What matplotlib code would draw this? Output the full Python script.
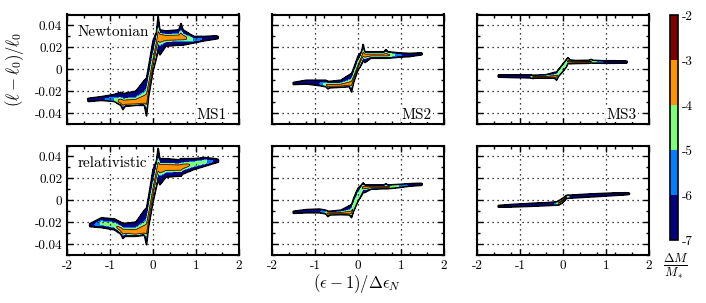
import numpy as np
import matplotlib
matplotlib.use("Agg")
import matplotlib.pyplot as plt
from matplotlib.ticker import MultipleLocator, FixedLocator, FixedFormatter

plt.rcParams['font.family'] = 'serif'
plt.rcParams['font.serif'] = ['cmr10']
plt.rcParams['mathtext.fontset'] = 'cm'
plt.rcParams['axes.unicode_minus'] = False

# log10(dM/M*) levels and band colours
levels = [-7, -6, -5, -4, -3, -2]
band_colors = ['#000080', '#0080ff', '#7dff7a', '#ff9400', '#800000']
cbar_labels = ['-7', '-6', '-5', '-4', '-3', '-2']

x_nodes = [-1.55, -1.5, -1.2, -0.9, -0.75, -0.7, -0.65, -0.4, -0.2, -0.15, -0.1, 0.0,
           0.08, 0.12, 0.16, 0.3, 0.6, 0.65, 0.7, 0.95, 1.2, 1.45, 1.6]

# Newtonian MS1: ridge (l-l0)/l0, extent above / below ridge, peak log10(dM/M*)
newt1_yc = [-0.028, -0.028, -0.027, -0.028, -0.030, -0.031, -0.031, -0.031, -0.030, -0.028, -0.017, 0.004,
            0.022, 0.029, 0.030, 0.029, 0.029, 0.029, 0.029, 0.027, 0.028, 0.029, 0.029]
newt1_up = [0.0005, 0.0015, 0.002, 0.005, 0.009, 0.009, 0.009, 0.011, 0.020, 0.020, 0.020, 0.022,
            0.012, 0.020, 0.006, 0.006, 0.007, 0.013, 0.007, 0.003, 0.002, 0.0015, 0.0005]
newt1_dn = [0.0005, 0.0015, 0.0015, 0.0015, 0.003, 0.006, 0.003, 0.002, 0.003, 0.015, 0.008, 0.006,
            0.012, 0.012, 0.017, 0.008, 0.007, 0.007, 0.007, 0.003, 0.002, 0.0015, 0.0005]
newt1_pk = [-7.5, -6.8, -6.5, -5.0, -3.3, -3.3, -3.3, -3.3, -3.4, -3.6, -3.8, -3.8,
            -3.8, -3.6, -3.3, -3.3, -3.3, -3.3, -3.4, -5.2, -6.3, -6.6, -7.5]

# Newtonian MS2
newt2_yc = [-0.013, -0.013, -0.012, -0.013, -0.014, -0.015, -0.015, -0.015, -0.014, -0.013, -0.008, 0.002,
            0.010, 0.013, 0.013, 0.013, 0.013, 0.013, 0.013, 0.013, 0.013, 0.014, 0.014]
newt2_up = [0.0005, 0.001, 0.002, 0.003, 0.004, 0.004, 0.004, 0.005, 0.009, 0.009, 0.009, 0.010,
            0.006, 0.010, 0.003, 0.003, 0.003, 0.005, 0.003, 0.002, 0.0015, 0.001, 0.0005]
newt2_dn = [0.0005, 0.001, 0.0015, 0.002, 0.002, 0.003, 0.002, 0.0015, 0.002, 0.008, 0.004, 0.003,
            0.006, 0.005, 0.007, 0.003, 0.003, 0.003, 0.003, 0.002, 0.0015, 0.001, 0.0005]
newt2_pk = [-7.5, -6.9, -6.6, -6.2, -4.2, -3.6, -3.6, -3.6, -3.7, -3.8, -3.9, -3.9,
            -3.9, -3.7, -3.6, -3.6, -3.6, -3.6, -3.7, -5.8, -6.5, -6.8, -7.5]

# Newtonian MS3
newt3_yc = [-0.0062, -0.0062, -0.0064, -0.0066, -0.0068, -0.0070, -0.0070, -0.0070, -0.0068, -0.0066, -0.004, 0.001,
            0.006, 0.0075, 0.0070, 0.0066, 0.0068, 0.0070, 0.0068, 0.0066, 0.0066, 0.0066, 0.0066]
newt3_up = [0.0004, 0.001, 0.0012, 0.0014, 0.0016, 0.0016, 0.0016, 0.002, 0.004, 0.004, 0.004, 0.004,
            0.003, 0.003, 0.0015, 0.0014, 0.0014, 0.002, 0.0014, 0.0012, 0.0012, 0.001, 0.0004]
newt3_dn = [0.0004, 0.001, 0.0012, 0.0012, 0.0012, 0.0015, 0.0012, 0.0012, 0.0012, 0.0035, 0.0025, 0.003,
            0.004, 0.002, 0.002, 0.0014, 0.0014, 0.0012, 0.0012, 0.0012, 0.0012, 0.001, 0.0004]
newt3_pk = [-7.5, -6.9, -6.8, -6.6, -6.0, -3.8, -3.7, -3.7, -3.7, -3.8, -4.3, -4.3,
            -4.3, -3.8, -3.7, -3.8, -3.9, -3.9, -4.5, -6.3, -6.6, -6.8, -7.5]

# relativistic MS1
rel1_yc = [-0.023, -0.023, -0.021, -0.023, -0.027, -0.029, -0.029, -0.030, -0.029, -0.027, -0.016, 0.006,
           0.024, 0.030, 0.030, 0.030, 0.030, 0.030, 0.031, 0.033, 0.035, 0.036, 0.036]
rel1_up = [0.0005, 0.001, 0.005, 0.006, 0.007, 0.008, 0.008, 0.010, 0.020, 0.020, 0.020, 0.022,
           0.012, 0.018, 0.008, 0.008, 0.007, 0.008, 0.007, 0.005, 0.004, 0.002, 0.0005]
rel1_dn = [0.0005, 0.001, 0.004, 0.004, 0.004, 0.006, 0.004, 0.003, 0.003, 0.014, 0.008, 0.008,
           0.012, 0.012, 0.016, 0.009, 0.008, 0.008, 0.007, 0.005, 0.004, 0.002, 0.0005]
rel1_pk = [-7.5, -7.2, -4.8, -4.3, -3.5, -3.3, -3.3, -3.3, -3.4, -3.6, -3.8, -3.8,
           -3.8, -3.6, -3.3, -3.3, -3.3, -3.3, -3.5, -4.3, -4.6, -6.5, -7.5]

# relativistic MS2
rel2_yc = [-0.011, -0.011, -0.010, -0.010, -0.011, -0.012, -0.012, -0.012, -0.012, -0.011, -0.006, 0.003,
           0.010, 0.012, 0.012, 0.012, 0.012, 0.012, 0.012, 0.013, 0.014, 0.0145, 0.0145]
rel2_up = [0.0005, 0.001, 0.0015, 0.002, 0.002, 0.002, 0.002, 0.003, 0.007, 0.007, 0.008, 0.008,
           0.004, 0.004, 0.002, 0.002, 0.002, 0.003, 0.002, 0.0015, 0.0012, 0.001, 0.0005]
rel2_dn = [0.0005, 0.001, 0.0015, 0.0015, 0.0015, 0.003, 0.0015, 0.0012, 0.0015, 0.005, 0.004, 0.004,
           0.006, 0.005, 0.005, 0.002, 0.0015, 0.0015, 0.0015, 0.0015, 0.0012, 0.001, 0.0005]
rel2_pk = [-7.5, -6.9, -6.6, -6.3, -5.0, -3.8, -3.7, -3.6, -3.7, -3.9, -4.1, -4.1,
           -4.1, -3.9, -3.6, -3.6, -3.6, -3.7, -3.8, -5.0, -6.3, -6.8, -7.5]

# relativistic MS3
rel3_yc = [-0.0055, -0.0055, -0.0050, -0.0045, -0.0042, -0.0041, -0.0040, -0.0036, -0.0031, -0.0030, -0.0025, 0.0,
           0.0030, 0.0033, 0.0033, 0.0036, 0.0043, 0.0044, 0.0045, 0.0050, 0.0055, 0.0059, 0.0061]
rel3_up = [0.0006, 0.0008, 0.0012, 0.0013, 0.0014, 0.0014, 0.0014, 0.0014, 0.0015, 0.0015, 0.002, 0.002,
           0.0015, 0.0015, 0.0014, 0.0014, 0.0014, 0.0014, 0.0014, 0.0013, 0.0012, 0.001, 0.0006]
rel3_dn = [0.0006, 0.0008, 0.0012, 0.0013, 0.0014, 0.0014, 0.0014, 0.0014, 0.0015, 0.0015, 0.002, 0.002,
           0.0015, 0.0015, 0.0014, 0.0014, 0.0014, 0.0014, 0.0014, 0.0013, 0.0012, 0.001, 0.0006]
rel3_pk = [-7.5, -6.9, -6.7, -6.6, -6.5, -6.5, -6.5, -6.4, -6.0, -4.8, -3.9, -3.7,
           -3.9, -4.8, -6.0, -6.4, -6.5, -6.5, -6.5, -6.6, -6.7, -6.8, -7.1]

ytick_labels = ['-0.04', '-0.02', '0', '0.02', '0.04']
xtick_labels = ['-2', '-1', '0', '1', '2']


def density(yc, up, dn, pk):
    # narrow core along the ridge plus a faint halo out to the outer edge
    xg = np.linspace(-2, 2, 900)
    yg = np.linspace(-0.05, 0.05, 700)
    X, Y = np.meshgrid(xg, yg)
    c = np.interp(xg, x_nodes, yc)
    u = np.interp(xg, x_nodes, up)
    l = np.interp(xg, x_nodes, dn)
    p = np.interp(xg, x_nodes, pk)
    d = Y - c
    w = np.where(d > 0, u, l)
    s = np.abs(d) / w
    core = p - np.clip(p + 7, 0.05, None) * (s / 0.55) ** 3
    h = np.minimum(p, -6.2)
    halo = h - np.clip(h + 7, 0.05, None) * s ** 2
    Z = np.maximum(core, halo)
    Z = np.clip(Z, -9, None)
    Z[:, (xg < x_nodes[0]) | (xg > x_nodes[-1])] = -9
    return X, Y, Z


panels = [
    (newt1_yc, newt1_up, newt1_dn, newt1_pk),
    (newt2_yc, newt2_up, newt2_dn, newt2_pk),
    (newt3_yc, newt3_up, newt3_dn, newt3_pk),
    (rel1_yc, rel1_up, rel1_dn, rel1_pk),
    (rel2_yc, rel2_up, rel2_dn, rel2_pk),
    (rel3_yc, rel3_up, rel3_dn, rel3_pk),
]
ms_names = ['MS1', 'MS2', 'MS3']

fig = plt.figure(figsize=(7.06, 3.03), dpi=100)
lefts = [67 / 706, 272 / 706, 477 / 706]
bottoms = [1 - 124 / 303, 1 - 255 / 303]
w_ax = 172 / 706
h_ax = 109.5 / 303

cf = None
for i, (yc, up, dn, pk) in enumerate(panels):
    row, col = divmod(i, 3)
    ax = fig.add_axes([lefts[col], bottoms[row], w_ax, h_ax])
    X, Y, Z = density(yc, up, dn, pk)
    cf = ax.contourf(X, Y, Z, levels=levels, colors=band_colors)
    ax.contour(X, Y, Z, levels=[-4], colors='k', linewidths=0.5, linestyles='solid')
    ax.contour(X, Y, Z, levels=[-7], colors='k', linewidths=1.1, linestyles='solid')

    ax.set_xlim(-2, 2)
    ax.set_ylim(-0.05, 0.05)
    ax.xaxis.set_major_locator(FixedLocator([-2, -1, 0, 1, 2]))
    ax.xaxis.set_minor_locator(MultipleLocator(0.4))
    ax.yaxis.set_major_locator(FixedLocator([-0.04, -0.02, 0, 0.02, 0.04]))
    ax.yaxis.set_minor_locator(MultipleLocator(0.01))
    ax.tick_params(which='both', direction='in', top=True, right=True, width=1.0, labelsize=9.5)
    ax.tick_params(which='major', length=4.5)
    ax.tick_params(which='minor', length=2.3)
    ax.grid(True, which='major', color='k', linestyle=(0, (1, 3)), linewidth=0.9)
    for sp in ax.spines.values():
        sp.set_linewidth(1.5)

    if col == 0:
        ax.yaxis.set_major_formatter(FixedFormatter(ytick_labels))
    else:
        ax.set_yticklabels([])
    if row == 1:
        ax.xaxis.set_major_formatter(FixedFormatter(xtick_labels))
    else:
        ax.set_xticklabels([])

    if row == 0:
        ax.text(0.93, 0.085, ms_names[col], transform=ax.transAxes, ha='right', va='center',
                fontsize=11, bbox=dict(facecolor='white', edgecolor='none', pad=0.5))
    if i == 0:
        ax.text(0.06, 0.84, 'Newtonian', transform=ax.transAxes, ha='left', va='center',
                fontsize=11, bbox=dict(facecolor='white', edgecolor='none', pad=0.5))
    if i == 3:
        ax.text(0.06, 0.84, 'relativistic', transform=ax.transAxes, ha='left', va='center',
                fontsize=11, bbox=dict(facecolor='white', edgecolor='none', pad=0.5))

fig.text(0.021, 0.77, r'$(\ell-\ell_0)/\ell_0$', rotation=90, ha='center', va='center', fontsize=12)
fig.text(0.506, 0.066, r'$(\epsilon-1)/\Delta\epsilon_N$', ha='center', va='center', fontsize=12)

cax = fig.add_axes([670 / 706, 1 - 240 / 303, 8 / 706, 225 / 303])
cb = fig.colorbar(cf, cax=cax, ticks=levels)
cb.ax.set_yticklabels(cbar_labels)
cb.ax.tick_params(length=0, labelsize=9.5, pad=3)
cb.outline.set_linewidth(1.2)
fig.text(0.957, 0.122, r'$\frac{\Delta M}{M_*}$', ha='center', va='center', fontsize=13)

fig.savefig('out.png', dpi=100)
